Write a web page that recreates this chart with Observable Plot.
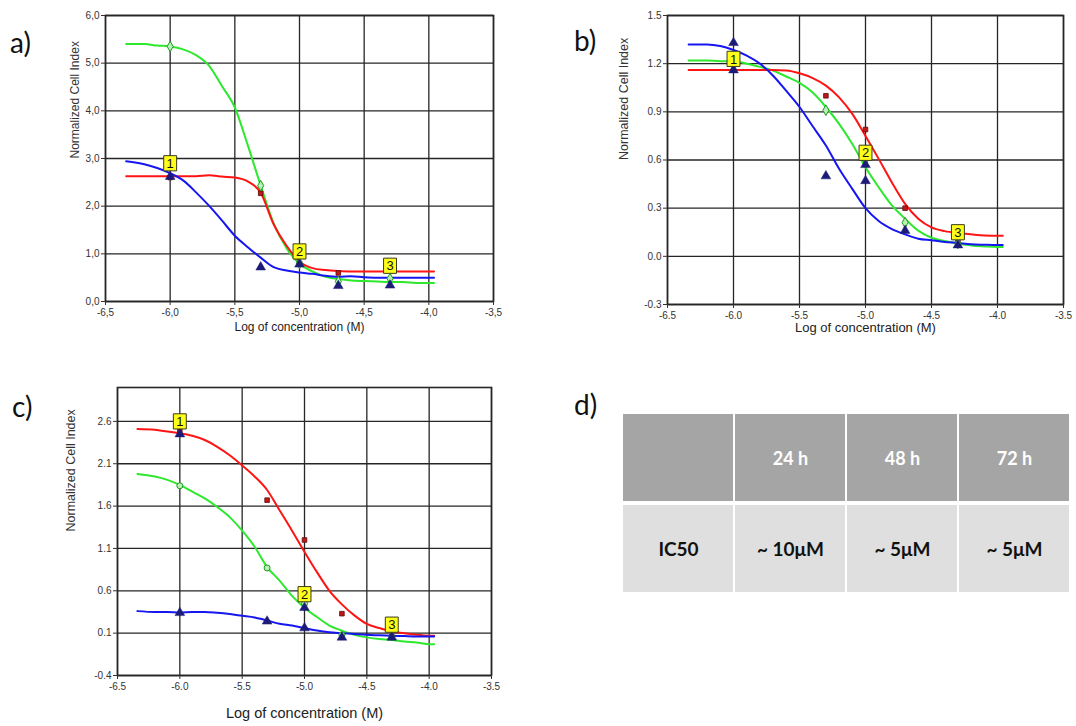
<!DOCTYPE html>
<html><head><meta charset="utf-8">
<script src="https://cdn.jsdelivr.net/npm/d3@7"></script>
<script src="https://cdn.jsdelivr.net/npm/@observablehq/plot@0.6"></script>
<style>
body{margin:0;background:#fff;}
#root{position:relative;width:1076px;height:726px;overflow:hidden;background:#fff;}
.panel{position:absolute;}
.plabel{position:absolute;font-family:Lato,"Open Sans",sans-serif;font-size:28px;line-height:1;color:#111;}
</style></head><body><div id="root"></div>
<script>
// ---------- data ----------
const logConc = [-6.34,-6.2,-6.1,-6.0,-5.9,-5.8,-5.7,-5.6,-5.5,-5.4,-5.3,-5.2,-5.1,-5.0,-4.9,-4.8,-4.7,-4.6,-4.5,-4.4,-4.3,-4.2,-4.1,-4.0,-3.96];
const xTicks = [-6.5,-6.0,-5.5,-5.0,-4.5,-4.0,-3.5];

// panel a
const aGreen = [5.40,5.40,5.37,5.35,5.29,5.17,4.95,4.52,4.07,3.28,2.43,1.64,1.12,0.79,0.63,0.52,0.47,0.44,0.43,0.42,0.41,0.41,0.39,0.39,0.39];
const aRed   = [2.63,2.63,2.63,2.63,2.63,2.63,2.65,2.62,2.60,2.52,2.28,1.62,1.17,0.84,0.70,0.66,0.64,0.63,0.63,0.63,0.63,0.63,0.63,0.63,0.63];
const aBlue  = [2.94,2.88,2.80,2.69,2.54,2.29,2.01,1.70,1.38,1.14,0.92,0.72,0.65,0.61,0.58,0.54,0.52,0.53,0.51,0.50,0.50,0.50,0.50,0.50,0.50];
const aRedPts   = [[-6.0,2.60],[-5.3,2.27],[-5.0,0.80],[-4.7,0.60]];
const aGreenPts = [[-6.0,5.35],[-5.3,2.43],[-5.0,0.80],[-4.7,0.42],[-4.3,0.48]];
const aBluePts  = [[-6.0,2.62],[-5.3,0.72],[-5.0,0.78],[-4.7,0.33],[-4.3,0.34]];
const aYTicks = [0,1,2,3,4,5,6];
const aLabels = [["1",-6.0,2.90],["2",-5.0,1.05],["3",-4.3,0.75]];

// panel b
const bBlue  = [1.32,1.32,1.31,1.285,1.25,1.20,1.125,1.03,0.93,0.81,0.69,0.545,0.42,0.30,0.22,0.17,0.137,0.11,0.10,0.09,0.083,0.075,0.072,0.07,0.07];
const bGreen = [1.22,1.22,1.215,1.215,1.20,1.18,1.157,1.12,1.08,1.02,0.93,0.825,0.70,0.555,0.43,0.317,0.234,0.16,0.116,0.095,0.08,0.068,0.062,0.058,0.058];
const bRed   = [1.16,1.16,1.16,1.16,1.16,1.16,1.16,1.157,1.14,1.11,1.063,0.99,0.887,0.75,0.607,0.46,0.327,0.234,0.18,0.157,0.145,0.137,0.13,0.128,0.128];
const bRedPts   = [[-6.0,1.16],[-5.3,1.00],[-5.0,0.79],[-4.7,0.30],[-4.3,0.09]];
const bGreenPts = [[-6.0,1.21],[-5.3,0.91],[-5.0,0.60],[-4.7,0.21],[-4.3,0.08]];
const bBluePts  = [[-6.0,1.33],[-6.0,1.16],[-5.3,0.50],[-5.0,0.57],[-5.0,0.47],[-4.7,0.16],[-4.3,0.07]];
const bYTicks = [-0.3,0,0.3,0.6,0.9,1.2,1.5];
const bLabels = [["1",-6.0,1.23],["2",-5.0,0.645],["3",-4.3,0.15]];

// panel c
const cRed   = [2.51,2.50,2.48,2.46,2.43,2.38,2.30,2.20,2.08,1.95,1.79,1.55,1.31,1.06,0.82,0.60,0.44,0.31,0.21,0.16,0.12,0.10,0.08,0.07,0.07];
const cGreen = [1.98,1.95,1.91,1.85,1.77,1.69,1.59,1.47,1.31,1.12,0.88,0.72,0.54,0.40,0.29,0.19,0.13,0.08,0.05,0.03,0.02,0.00,-0.01,-0.03,-0.03];
const cBlue  = [0.36,0.35,0.35,0.345,0.35,0.35,0.34,0.325,0.305,0.285,0.25,0.21,0.19,0.16,0.13,0.11,0.10,0.09,0.08,0.075,0.07,0.065,0.06,0.06,0.06];
const cRedPts   = [[-6.0,2.48],[-5.3,1.67],[-5.0,1.20],[-4.7,0.33],[-4.3,0.06]];
const cGreenPts = [[-6.0,1.84],[-5.3,0.87],[-5.0,0.45],[-4.7,0.08],[-4.3,0.05]];
const cBluePts  = [[-6.0,2.45],[-6.0,0.34],[-5.3,0.24],[-5.0,0.40],[-5.0,0.16],[-4.7,0.05],[-4.3,0.05]];
const cYTicks = [-0.4,0.1,0.6,1.1,1.6,2.1,2.6];
const cLabels = [["1",-6.0,2.60],["2",-5.0,0.56],["3",-4.3,0.20]];

// panel d
const tableHeader = ["", "24 h", "48 h", "72 h"];
const tableRow = ["IC50", "~ 10\u03bcM", "~ 5\u03bcM", "~ 5\u03bcM"];

// ---------- drawing ----------
const RED = "#ff1414", GREEN = "#2ee82e", BLUE = "#1616f0";
const labelBox = {draw(ctx, size){ const r = Math.sqrt(size/Math.PI); const w = r*0.85, h = r; ctx.moveTo(-w,-h); ctx.lineTo(w,-h); ctx.lineTo(w,h); ctx.lineTo(-w,h); ctx.closePath(); }};
const root = document.getElementById("root");

function curveRows(ys){ return logConc.map((x,i)=>({x, y: ys[i]})); }
function ptRows(p){ return p.map(([x,y])=>({x,y})); }

function chart(o){
  const fmt = o.comma ? (d=>d3.format(".1f")(d).replace(".",",").replace("\u2212","-")) : (d=>d3.format(".1f")(d).replace("\u2212","-"));
  const p = Plot.plot({
    width: o.width, height: o.height,
    marginLeft: o.ml, marginRight: o.mr, marginTop: o.mt, marginBottom: o.mb,
    style: {fontFamily: "'Liberation Sans', Arial, sans-serif", fontSize: "10px", color: "#333", background: "transparent", overflow: "visible"},
    x: {domain: [-6.5, -3.5]},
    y: {domain: o.yDomain},
    marks: [
      Plot.gridX(xTicks, {stroke: "#262626", strokeOpacity: 1, strokeWidth: 1.3}),
      Plot.gridY(o.yTicks, {stroke: "#262626", strokeOpacity: 1, strokeWidth: 1.3}),
      Plot.frame({stroke: "#262626", strokeWidth: 1.6}),
      Plot.axisX({ticks: xTicks, tickFormat: fmt, tickSize: 4, tickPadding: 3, label: null, fill: "#333"}),
      Plot.axisY({ticks: o.yTicks, tickFormat: fmt, tickSize: 4, tickPadding: 2, label: null, fill: "#333"}),
      Plot.text(["Log of concentration (M)"], {frameAnchor: "bottom", dy: o.xLabDy, fontSize: o.xLabSize, fill: "#222"}),
      Plot.text(["Normalized Cell Index"], {frameAnchor: "left", dx: o.yLabDx, rotate: -90, fontSize: o.yLabSize, fill: "#333"}),
      Plot.line(curveRows(o.green), {x: "x", y: "y", stroke: GREEN, strokeWidth: 2, curve: "monotone-x"}),
      Plot.line(curveRows(o.red), {x: "x", y: "y", stroke: RED, strokeWidth: 2, curve: "monotone-x"}),
      Plot.line(curveRows(o.blue), {x: "x", y: "y", stroke: BLUE, strokeWidth: 2, curve: "monotone-x"}),
      Plot.dot(ptRows(o.redPts), {x: "x", y: "y", symbol: "square", r: 2.6, fill: "#c01818", stroke: "#5a0c0c", strokeWidth: 0.8}),
      Plot.dot(ptRows(o.greenPts), {x: "x", y: "y", symbol: o.greenSym, r: o.greenSym === "circle" ? 3 : 3.2, fill: "#b8f0b8", stroke: "#1b9a1b", strokeWidth: 1}),
      Plot.dot(ptRows(o.bluePts), {x: "x", y: "y", symbol: "triangle", r: 3.6, fill: "#1c1c78", stroke: "#1c1c78", strokeWidth: 0.5}),
      Plot.dot(o.labels, {x: d=>d[1], y: d=>d[2], symbol: labelBox, r: 7.6, fill: "#ffff1a", stroke: "#3a3a1a", strokeWidth: 1}),
      Plot.text(o.labels, {x: d=>d[1], y: d=>d[2], text: d=>d[0], fontSize: 13, fill: "#111", dy: 0.5})
    ]
  });
  const div = document.createElement("div");
  div.className = "panel";
  div.style.left = o.left + "px"; div.style.top = o.top + "px";
  div.appendChild(p);
  root.appendChild(div);
}

chart({left: 0, top: 0, width: 540, height: 340, ml: 105, mr: 47, mt: 15, mb: 39,
  yDomain: [0, 6], yTicks: aYTicks, comma: true,
  green: aGreen, red: aRed, blue: aBlue, redPts: aRedPts, greenPts: aGreenPts, bluePts: aBluePts, greenSym: "diamond",
  labels: aLabels, xLabDy: 29, xLabSize: 12, yLabDx: -30, yLabSize: 12});

chart({left: 560, top: 0, width: 516, height: 340, ml: 107, mr: 13, mt: 15, mb: 36,
  yDomain: [-0.3, 1.5], yTicks: bYTicks, comma: false,
  green: bGreen, red: bRed, blue: bBlue, redPts: bRedPts, greenPts: bGreenPts, bluePts: bBluePts, greenSym: "diamond",
  labels: bLabels, xLabDy: 27, xLabSize: 13, yLabDx: -44, yLabSize: 12.5});

chart({left: 0, top: 380, width: 540, height: 346, ml: 117, mr: 49, mt: 7, mb: 51,
  yDomain: [-0.4, 3.0], yTicks: cYTicks, comma: false,
  green: cGreen, red: cRed, blue: cBlue, redPts: cRedPts, greenPts: cGreenPts, bluePts: cBluePts, greenSym: "circle",
  labels: cLabels, xLabDy: 42, xLabSize: 14.5, yLabDx: -47, yLabSize: 12.5});

// table d
const cells = [];
tableHeader.forEach((t,i)=>cells.push({col: i, row: "head", text: t}));
tableRow.forEach((t,i)=>cells.push({col: i, row: "body", text: t}));
const tbl = Plot.plot({
  width: 450, height: 183, margin: 0,
  style: {fontFamily: "Lato, 'Open Sans', sans-serif", background: "transparent"},
  x: {type: "band", domain: [0,1,2,3], padding: 0, axis: null},
  y: {type: "band", domain: ["head","body"], padding: 0, axis: null},
  marks: [
    Plot.cell(cells, {x: "col", y: "row", fill: d => d.row === "head" ? "#a5a5a5" : "#dfdfdf", insetLeft: 1, insetRight: 1, insetTop: 2, insetBottom: 2}),
    Plot.text(cells.filter(d=>d.row==="head"), {x: "col", y: "row", text: "text", fill: "#ffffff", fontSize: 18, fontWeight: "bold", dy: 1}),
    Plot.text(cells.filter(d=>d.row==="body"), {x: "col", y: "row", text: "text", fill: "#111", fontSize: 19, fontWeight: "bold", dy: 1})
  ]
});
const td = document.createElement("div");
td.className = "panel"; td.style.left = "621px"; td.style.top = "411px";
td.appendChild(tbl); root.appendChild(td);

// panel letters
[["a)",10,28],["b)",574,26],["c)",12,392],["d)",574,390]].forEach(([t,x,y])=>{
  const s = document.createElement("div"); s.className = "plabel"; s.textContent = t;
  s.style.left = x + "px"; s.style.top = y + "px"; root.appendChild(s);
});
</script></body></html>
